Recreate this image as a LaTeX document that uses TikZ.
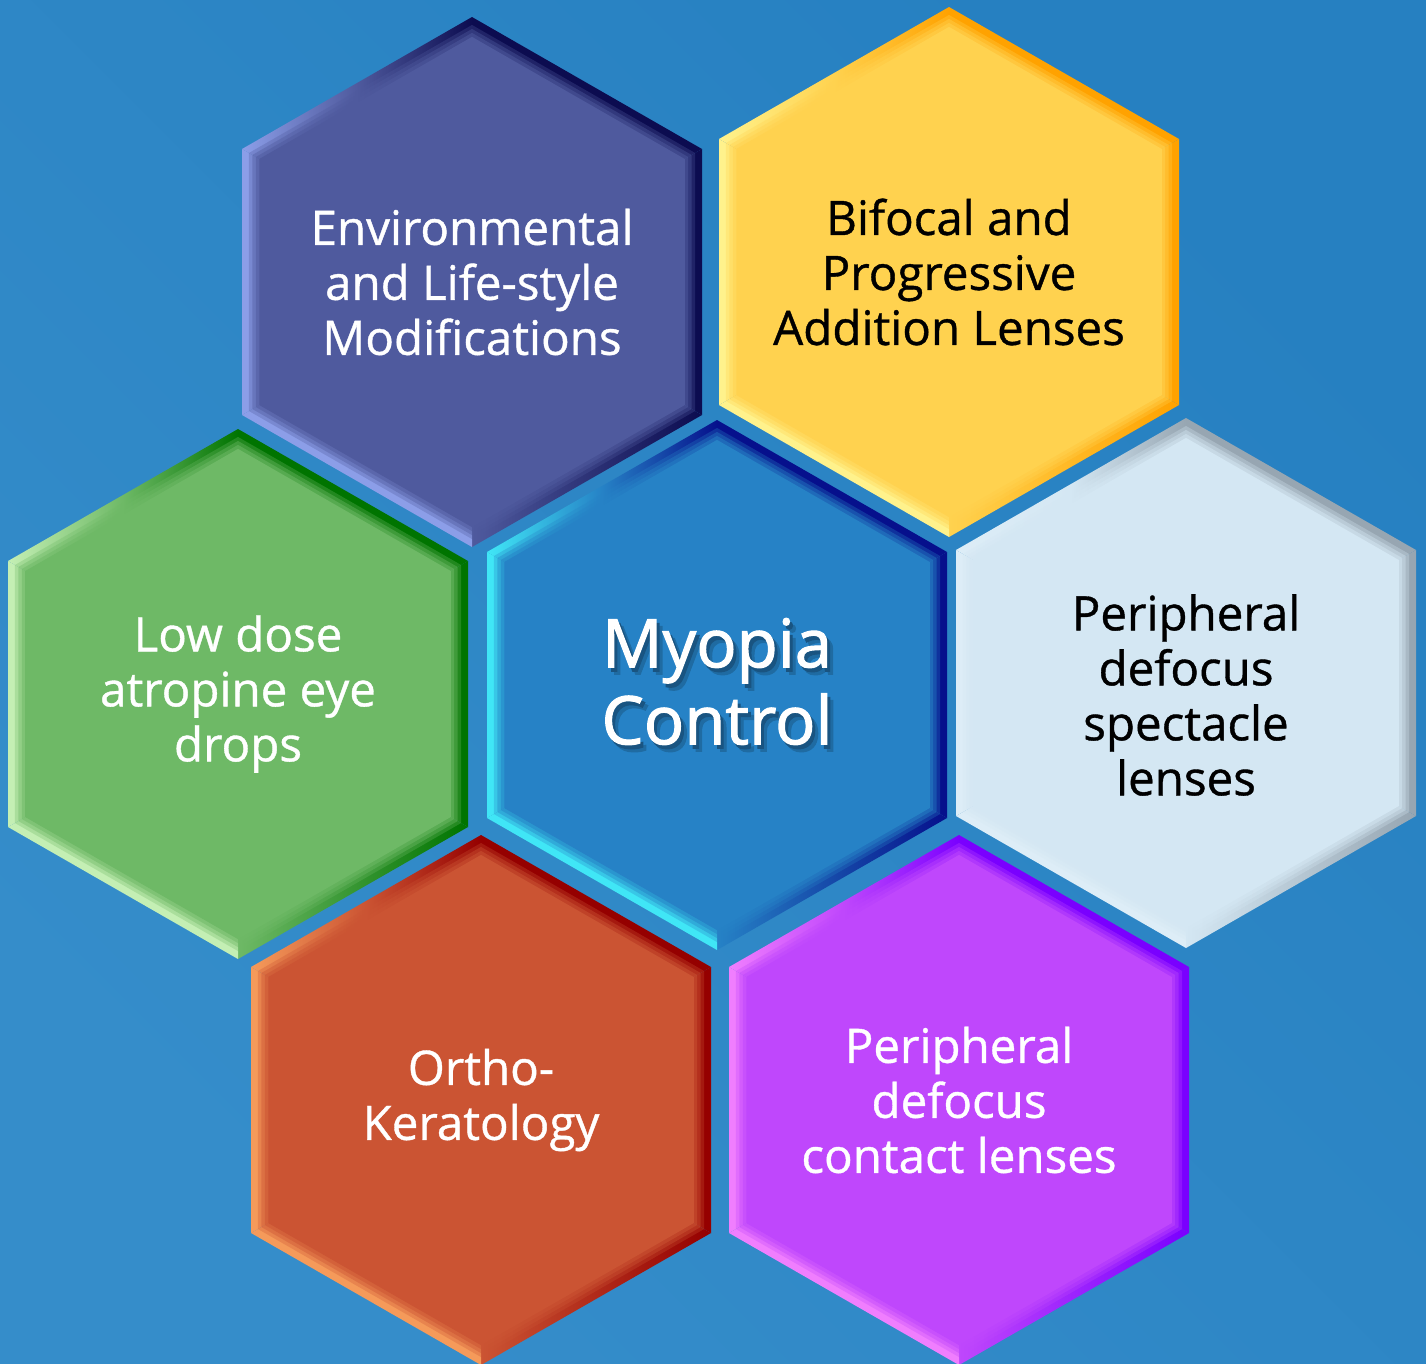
\documentclass[tikz,border=0pt]{standalone}
\usepackage{fontspec}
\setmainfont{Open Sans}[FakeBold=0.8]
\newfontfamily\titlefont{Open Sans}[FakeBold=1.6]

% background
\definecolor{bglow}{HTML}{358DCA}
\definecolor{bghigh}{HTML}{2680C1}
% cell colours: base, light rim, dark rim
\definecolor{envbase}{HTML}{4F5A9E}\definecolor{envlite}{HTML}{8C9EE8}\definecolor{envdark}{HTML}{0C0C50}
\definecolor{bifbase}{HTML}{FFD24F}\definecolor{biflite}{HTML}{FFF28C}\definecolor{bifdark}{HTML}{FFA200}
\definecolor{lowbase}{HTML}{6EB966}\definecolor{lowlite}{HTML}{C4EFB4}\definecolor{lowdark}{HTML}{007400}
\definecolor{ctrbase}{HTML}{2682C6}\definecolor{ctrlite}{HTML}{40E6F6}\definecolor{ctrdark}{HTML}{06108C}
\definecolor{rgtbase}{HTML}{D4E7F3}\definecolor{rgtlite}{HTML}{DDEDF7}\definecolor{rgtdark}{HTML}{97A6B2}
\definecolor{ortbase}{HTML}{CB5433}\definecolor{ortlite}{HTML}{F59A5A}\definecolor{ortdark}{HTML}{950000}
\definecolor{conbase}{HTML}{BF47FC}\definecolor{conlite}{HTML}{F07EFE}\definecolor{condark}{HTML}{7A00FF}
\colorlet{ctrhaze}{ctrbase!82!black}
\colorlet{ctrshade}{ctrbase!65!black}

% white title word with a soft drop shadow
\newcommand\dropshadow[1]{\rlap{\kern6pt\raisebox{-7pt}{\color{ctrhaze}#1}}\rlap{\kern3pt\raisebox{-4pt}{\color{ctrshade}#1}}#1}

\tikzset{
	hexpath/.style={insert path={(0,265) -- (230,133) -- (230,-133) -- (0,-265) -- (-230,-133) -- (-230,133) -- cycle}}, % one honeycomb cell round its centre
	cell text/.style={align=center, inner sep=0pt, font=\fontsize{47.5}{55}\selectfont}, % labels of the outer cells
	title text/.style={align=center, inner sep=0pt, font=\titlefont\fontsize{67}{77}\selectfont}, % label of the middle cell
}

\begin{document}
\begin{tikzpicture}[x=1pt, y=1pt]
	\shade[left color=bglow, right color=bghigh, shading angle=135] (0,0) rectangle (1426,-1363);
	\useasboundingbox (0,0) rectangle (1426,-1363);

	\foreach \cell/\cx/\cy/\base/\lite/\dark in {
			env/472/282/envbase/envlite/envdark,
			bif/949/272/bifbase/biflite/bifdark,
			low/238/694/lowbase/lowlite/lowdark,
			ctr/717/685/ctrbase/ctrlite/ctrdark,
			rgt/1186/683/rgtbase/rgtlite/rgtdark,
			ort/481/1100/ortbase/ortlite/ortdark,
			con/959/1100/conbase/conlite/condark}{
		\coordinate (\cell) at (\cx,-\cy);
		\begin{scope}[shift={(\cell)}]
			% bevel, lit from the lower left
			\fill[\dark] (0,265) -- (230,133) -- (211.6,122.4) -- (0,243.8) -- cycle;
			\fill[\dark] (230,133) -- (230,-133) -- (211.6,-122.4) -- (211.6,122.4) -- cycle;
			\shade[left color=\base, right color=\dark] (230,-133) -- (0,-265) -- (0,-243.8) -- (211.6,-122.4) -- cycle;
			\fill[\lite] (0,-265) -- (-230,-133) -- (-211.6,-122.4) -- (0,-243.8) -- cycle;
			\fill[\lite] (-230,-133) -- (-230,133) -- (-211.6,122.4) -- (-211.6,-122.4) -- cycle;
			\shade[left color=\lite, right color=\dark, middle color=\base] (-230,133) -- (0,265) -- (0,243.8) -- (-211.6,122.4) -- cycle;
			% soft inner edge of the rim
			\foreach \s/\o in {0.97/0.3, 0.955/0.4, 0.94/0.5, 0.925/1}
				\fill[\base, opacity=\o, scale=\s, hexpath];
		\end{scope}
	}

	\node[cell text, text=white] (env-text) at (env) {Environmental\\and Life-style\\Modifications};
	\node[cell text, text=black] (bif-text) at (bif) {Bifocal and\\Progressive\\Addition Lenses};
	\node[cell text, text=white] (low-text) at (low) {Low dose\\atropine eye\\drops};
	\node[cell text, text=black, yshift=-12pt] (rgt-text) at (rgt) {Peripheral\\defocus\\spectacle\\lenses};
	\node[cell text, text=white] (ort-text) at (ort) {Ortho-\\Keratology};
	\node[cell text, text=white] (con-text) at (con) {Peripheral\\defocus\\contact lenses};
	\node[title text, text=white] (ctr-text) at (ctr) {\dropshadow{Myopia}\\\dropshadow{Control}};
\end{tikzpicture}
\end{document}
